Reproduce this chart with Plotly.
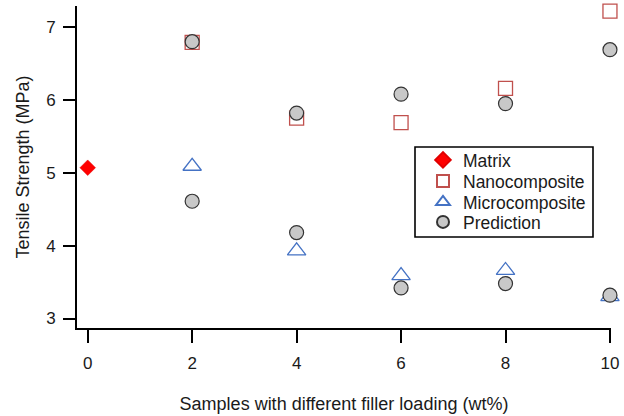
import plotly.graph_objects as go

# Data
matrix_x = [0]
matrix_y = [5.07]

nano_x = [2, 4, 6, 8, 10]
nano_y = [6.79, 5.75, 5.69, 6.16, 7.22]

micro_x = [2, 4, 6, 8, 10]
micro_y = [5.09, 3.93, 3.59, 3.66, 3.30]

pred_x = [2, 4, 6, 8, 10, 2, 4, 6, 8, 10]
pred_y = [6.80, 5.82, 6.08, 5.95, 6.69, 4.61, 4.18, 3.42, 3.48, 3.32]

x_ticks = [0, 2, 4, 6, 8, 10]
y_ticks = [3, 4, 5, 6, 7]

FONT = "Arial, Liberation Sans, sans-serif"
W, H = 624, 416
L, R, T, B = 77, 13, 6, 88
pw, ph = W - L - R, H - T - B


def px_x(p):
    return (p - L) / pw


def px_y(p):
    return (H - B - p) / ph


fig = go.Figure()
fig.add_trace(go.Scatter(
    x=matrix_x, y=matrix_y, mode="markers", name="Matrix", legend="legend",
    marker=dict(symbol="diamond", size=12, color="#ff0000",
                line=dict(width=0.5, color="#e00000")),
    cliponaxis=False))
fig.add_trace(go.Scatter(
    x=nano_x, y=nano_y, mode="markers", name="Nanocomposite", legend="legend2",
    marker=dict(symbol="square-open", size=14, color="#c0504d",
                line=dict(width=1.3, color="#c0504d")),
    cliponaxis=False))
fig.add_trace(go.Scatter(
    x=micro_x, y=micro_y, mode="markers", name="Microcomposite", legend="legend3",
    marker=dict(symbol="triangle-up-open", size=16, color="#4472c4",
                line=dict(width=1.3, color="#4472c4")),
    cliponaxis=False))
fig.add_trace(go.Scatter(
    x=pred_x, y=pred_y, mode="markers", name="Prediction", legend="legend4",
    marker=dict(symbol="circle", size=14, color="#c8c8c8",
                line=dict(width=1.2, color="#333333")),
    cliponaxis=False))

fig.add_shape(type="rect", xref="paper", yref="paper",
              x0=px_x(415), x1=px_x(593), y0=px_y(237), y1=px_y(147),
              line=dict(color="black", width=1.6), fillcolor="white",
              layer="below")


def leg(center_px):
    return dict(x=px_x(423), y=px_y(center_px), xanchor="left",
                yanchor="middle", bgcolor="rgba(0,0,0,0)", borderwidth=0,
                itemsizing="constant",
                font=dict(family=FONT, size=17.5, color="#1a1a1a"))


fig.update_layout(
    width=W, height=H,
    margin=dict(l=L, r=R, t=T, b=B),
    paper_bgcolor="white", plot_bgcolor="white",
    font=dict(family=FONT, size=17, color="#1a1a1a"),
    showlegend=True,
    legend=leg(160), legend2=leg(181), legend3=leg(202), legend4=leg(222),
    xaxis=dict(range=[-0.205, 10.02], tickvals=x_ticks,
               showgrid=False, zeroline=False,
               showline=True, linecolor="black", linewidth=2,
               ticks="outside", ticklen=13, tickwidth=2, tickcolor="black",
               ticklabelstandoff=6,
               title=dict(text="Samples with different filler loading (wt%)",
                          standoff=25,
                          font=dict(family=FONT, size=18))),
    yaxis=dict(range=[2.87, 7.29], tickvals=y_ticks,
               showgrid=False, zeroline=False,
               showline=True, linecolor="black", linewidth=2,
               ticks="outside", ticklen=12, tickwidth=2, tickcolor="black",
               ticklabelstandoff=4,
               title=dict(text="Tensile Strength (MPa)", standoff=12,
                          font=dict(family=FONT, size=18))),
)

fig.write_html("out.html")
